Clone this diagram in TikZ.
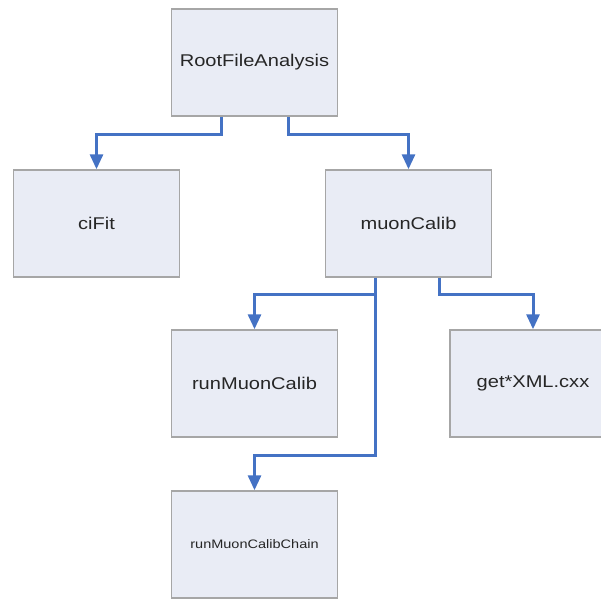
\documentclass[tikz,border=0pt]{standalone}
\usepackage{fontspec}
\setmainfont{Liberation Sans}
\usetikzlibrary{arrows.meta}
\definecolor{boxfill}{RGB}{233,236,245}
\definecolor{boxline}{RGB}{166,166,166}
\definecolor{linkblue}{RGB}{68,114,196}
\newcommand{\wide}[1]{\scalebox{1.18}[1]{#1}}
\begin{document}
\begin{tikzpicture}[x=1pt,y=-1pt,
  box/.style={draw=boxline, line width=1.5pt, fill=boxfill, minimum width=166pt, minimum height=107pt, inner sep=0pt, font=\fontsize{17}{20}\selectfont, text=black!85},
  smalltext/.style={font=\fontsize{12.3}{15}\selectfont},
  conn/.style={draw=linkblue, line width=3pt, -{Triangle[length=15pt,width=13pt]}}]
\useasboundingbox (0,0) rectangle (601,599);
\clip (0,0) rectangle (601,599);
\fill[white] (0,0) rectangle (601,599);
\node[box] (root)   at (254.5,62.5)  {\wide{RootFileAnalysis}};
\node[box] (cifit)  at (96.5,223.5)  {\wide{ciFit}};
\node[box] (muon)   at (408.5,223.5) {\wide{muonCalib}};
\node[box] (run)    at (254.5,383.5) {\wide{runMuonCalib}};
\node[box] (getxml) at (533,383.5)   {\wide{get*XML.cxx}};
\node[box,smalltext] (chain) at (254.5,544.5) {\wide{runMuonCalibChain}};
\draw[conn] ([xshift=-33.5pt]root.south) -- ++(0,18) -| (cifit.north);
\draw[conn] ([xshift=33.5pt]root.south) -- ++(0,18) -| (muon.north);
\draw[conn] ([xshift=-33.5pt]muon.south) -- ++(0,17) -| (run.north);
\draw[conn] ([xshift=-33.5pt]muon.south) -- ++(0,178) -| (chain.north);
\draw[conn] ([xshift=31pt]muon.south) -- ++(0,17) -| (getxml.north);
\end{tikzpicture}
\end{document}
